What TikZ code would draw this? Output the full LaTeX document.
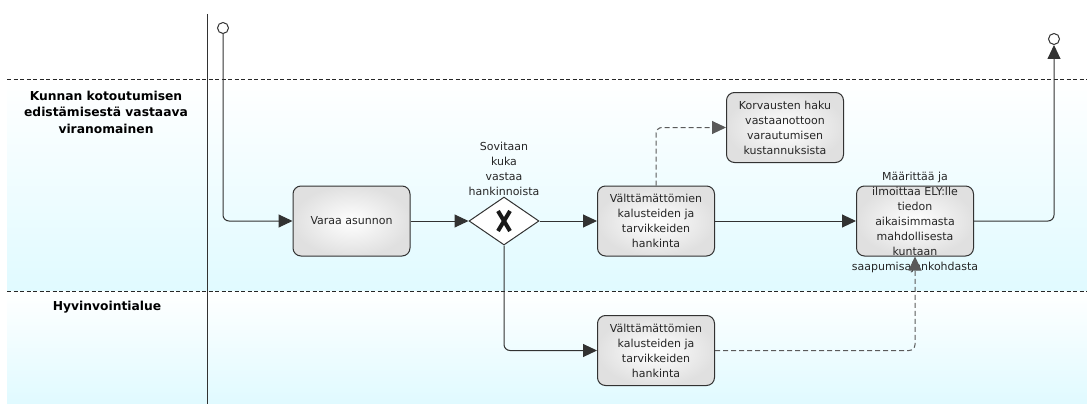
\documentclass[tikz,border=0pt]{standalone}
\usepackage{fontspec}
\setmainfont{DejaVu Sans}
\usetikzlibrary{shapes.geometric,arrows.meta,calc}
\definecolor{lanecyan}{RGB}{224,250,255}
\definecolor{edge}{RGB}{50,50,50}
\definecolor{dashgray}{RGB}{90,90,90}
\begin{document}
\begin{tikzpicture}[x=1pt,y=-1pt,
  task/.style={draw=edge, line width=1pt, rounded corners=8pt,
    minimum width=117pt, minimum height=70pt, inner sep=0pt,
    inner color=white, outer color=black!12, align=center,
    font=\fontsize{11}{15}\selectfont, text=black!85},
  plain/.style={align=center, font=\fontsize{11}{15}\selectfont, text=black!85, inner sep=0pt},
  lanelabel/.style={align=center, font=\fontsize{12.3}{16.5}\selectfont\bfseries, inner sep=0pt},
  event/.style={circle, draw=edge, line width=1pt, fill=white, minimum size=11pt, inner sep=0pt},
  gateway/.style={diamond, draw=edge, line width=1pt, fill=white, minimum width=70pt, minimum height=48pt, inner sep=0pt},
  flow/.style={draw=edge, line width=1pt, rounded corners=6pt, -{Triangle[length=14pt,width=13pt]}},
  assoc/.style={draw=dashgray, line width=1pt, dash pattern=on 5pt off 3pt, rounded corners=6pt, -{Triangle[length=14pt,width=13pt]}},
  lanesep/.style={draw=black!85, line width=1pt, dash pattern=on 4pt off 2.5pt},
]
\useasboundingbox (0,0) rectangle (1087,404);
% lane backgrounds
\shade[top color=white, bottom color=lanecyan] (7,80) rectangle (1087,291);
\shade[top color=white, bottom color=lanecyan] (7,291) rectangle (1087,404);
% separators
\draw[lanesep] (7,80) -- (1087,80);
\draw[lanesep] (7,291) -- (1087,291);
\draw[draw=edge, line width=1pt] (207,14) -- (207,404);
% lane labels
\node[lanelabel] (lane1) at (106,112) {Kunnan kotoutumisen\\edistämisestä vastaava\\viranomainen};
\node[lanelabel] (lane2) at (107,307) {Hyvinvointialue};
% nodes
\node[event] (start) at (223,28) {};
\node[task] (varaa) at (351.5,221) {Varaa asunnon};
\node[gateway] (gw) at (504,221) {};
\draw[line width=4pt, black!90] ($(gw)+(-6,-10)$) -- ($(gw)+(6,10)$);
\draw[line width=4pt, black!90] ($(gw)+(-6,10)$) -- ($(gw)+(6,-10)$);
\node[plain] (gwlabel) at (504,169) {Sovitaan\\kuka\\vastaa\\hankinnoista};
\node[task] (box1) at (656,221) {Välttämättömien\\kalusteiden ja\\tarvikkeiden\\hankinta};
\node[task] (korv) at (785,127.5) {Korvausten haku\\vastaanottoon\\varautumisen\\kustannuksista};
\node[task] (maar) at (915,221) {};
\node[plain] (maartext) at (915,222.5) {Määrittää ja\\ilmoittaa ELY:lle\\tiedon\\aikaisimmasta\\mahdollisesta\\kuntaan\\saapumisajankohdasta};
\node[task] (box2) at (656,350.5) {Välttämättömien\\kalusteiden ja\\tarvikkeiden\\hankinta};
\node[event] (end) at (1054,39) {};
% connectors
\draw[flow] (start) |- (varaa);
\draw[flow] (varaa) -- (gw);
\draw[flow] (gw) -- (box1);
\draw[flow] (box1) -- (maar);
\draw[flow] (maar) -| (end);
\draw[flow] (gw) |- (box2);
\draw[assoc] (box1.north) |- (korv.west);
\draw[assoc] (box2) -| (maar);
\end{tikzpicture}
\end{document}
